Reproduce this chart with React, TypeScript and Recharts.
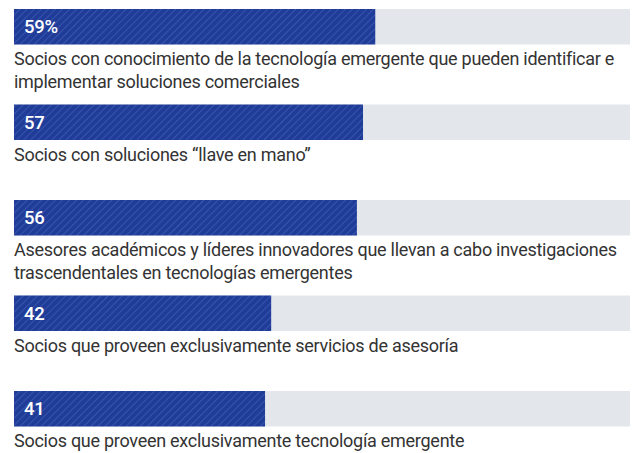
import { BarChart, Bar, XAxis, YAxis, LabelList } from 'recharts'

const categories = [
  'Socios con conocimiento de la tecnología emergente que pueden identificar e\nimplementar soluciones comerciales',
  'Socios con soluciones “llave en mano”',
  'Asesores académicos y líderes innovadores que llevan a cabo investigaciones\ntrascendentales en tecnologías emergentes',
  'Socios que proveen exclusivamente servicios de asesoría',
  'Socios que proveen exclusivamente tecnología emergente',
]
const values = [59, 57, 56, 42, 41]
const valueLabels = ['59%', '57', '56', '42', '41']

const data = categories.map((name, i) => ({
  name,
  value: values[i],
  label: valueLabels[i],
}))

const FONT = 'Roboto, sans-serif'

const ValueLabel = ({ x, y, height, index }: any) => (
  <text
    x={x + 10}
    y={y + height / 2 + 6.5}
    fill="#ffffff"
    fontFamily={FONT}
    fontSize={18.5}
    fontWeight={500}
    letterSpacing={-0.3}
  >
    {valueLabels[index]}
  </text>
)

const CategoryLabel = ({ x, y, height, value }: any) => {
  const lines = String(value).split('\n')
  return (
    <text
      x={x}
      y={y + height + 20.5}
      fill="#333333"
      fontFamily={FONT}
      fontSize={18}
      letterSpacing={-0.27}
    >
      {lines.map((line, i) => (
        <tspan key={i} x={x} dy={i === 0 ? 0 : 23}>
          {line}
        </tspan>
      ))}
    </text>
  )
}

export default function App() {
  return (
    <div
      style={{
        position: 'absolute',
        left: 0,
        top: 0,
        width: 636,
        height: 453,
        overflow: 'hidden',
        background: '#ffffff',
      }}
    >
      <div style={{ position: 'relative', top: -21 }}>
        <BarChart
          width={636}
          height={477.5}
          data={data}
          layout="vertical"
          margin={{ top: 0, right: 6, left: 14, bottom: 0 }}
          barCategoryGap={0}
        >
          <defs>
            <pattern
              id="hatch"
              patternUnits="userSpaceOnUse"
              width={5}
              height={5}
              patternTransform="rotate(45)"
            >
              <rect width={5} height={5} fill="#1f3c98" />
              <line x1={0} y1={0} x2={0} y2={5} stroke="#526cc0" strokeWidth={1} />
            </pattern>
          </defs>
          <XAxis type="number" domain={[0, 100.6]} hide />
          <YAxis type="category" dataKey="name" hide />
          <Bar
            dataKey="value"
            barSize={35.5}
            fill="url(#hatch)"
            background={{ fill: '#e3e7eb' }}
            isAnimationActive={false}
          >
            <LabelList dataKey="label" content={<ValueLabel />} />
            <LabelList dataKey="name" content={<CategoryLabel />} />
          </Bar>
        </BarChart>
      </div>
    </div>
  )
}
